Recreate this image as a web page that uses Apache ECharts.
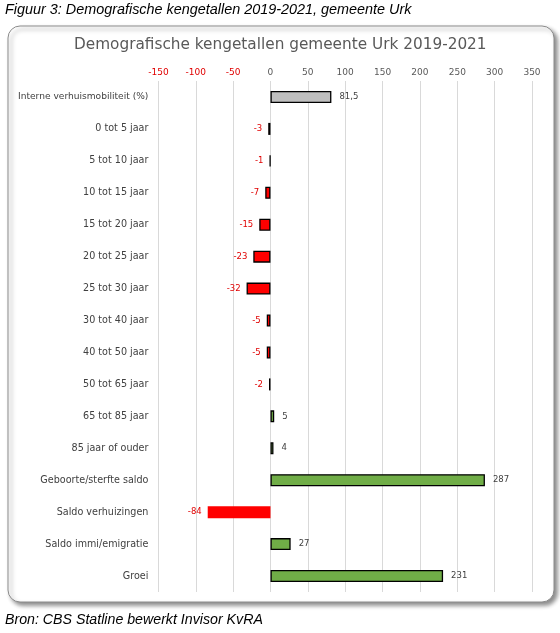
<!DOCTYPE html>
<html>
<head>
<meta charset="utf-8">
<script src="https://cdn.jsdelivr.net/npm/echarts@6/dist/echarts.min.js"></script>
<style>
html,body{margin:0;padding:0;background:#fff;}
#chart{width:560px;height:633px;}
</style>
</head>
<body>
<div id="chart"></div>
<script>
const categories = [
  'Interne verhuismobiliteit (%)', '0 tot 5 jaar', '5 tot 10 jaar', '10 tot 15 jaar',
  '15 tot 20 jaar', '20 tot 25 jaar', '25 tot 30 jaar', '30 tot 40 jaar',
  '40 tot 50 jaar', '50 tot 65 jaar', '65 tot 85 jaar', '85 jaar of ouder',
  'Geboorte/sterfte saldo', 'Saldo verhuizingen', 'Saldo immi/emigratie', 'Groei'
];
const values = [81.5, -3, -1, -7, -15, -23, -32, -5, -5, -2, 5, 4, 287, -84, 27, 231];
const axisMin = -150, axisMax = 350, axisStep = 50;
const chartTitle = 'Demografische kengetallen gemeente Urk 2019-2021';
const caption = 'Figuur 3: Demografische kengetallen 2019-2021, gemeente Urk';
const source = 'Bron: CBS Statline bewerkt Invisor KvRA';

const RED = '#FF0000', GREEN = '#70AD47', GREY = '#BFBFBF';
const FONT = 'DejaVu Sans';

const data = values.map((v, i) => {
  const isPct = i === 0;
  const noBorder = categories[i] === 'Saldo verhuizingen';
  const color = isPct ? GREY : (v < 0 ? RED : GREEN);
  return {
    value: v,
    itemStyle: {
      color: color,
      borderColor: noBorder ? 'transparent' : '#000',
      borderWidth: noBorder ? 0 : 1.3
    },
    label: {
      position: v < 0 ? 'left' : 'right',
      color: v < 0 ? '#E00000' : '#404040',
      distance: v < 0 ? 6 : 8
    }
  };
});

const chart = echarts.init(document.getElementById('chart'), null, {renderer: 'canvas'});
chart.setOption({
  animation: false,
  backgroundColor: '#fff',
  graphic: [
    {
      type: 'rect', z: -10, silent: true,
      shape: {x: 8, y: 26, width: 546, height: 576, r: 12},
      style: {fill: '#fff', stroke: '#8c8c8c', lineWidth: 1,
        shadowBlur: 4, shadowOffsetX: 3, shadowOffsetY: 3, shadowColor: 'rgba(0,0,0,0.45)'}
    },
    {
      type: 'text', left: 5, top: 3, silent: true,
      style: {text: caption, font: 'italic 14.4px "Liberation Sans"', fill: '#000'}
    },
    {
      type: 'text', left: 5, top: 613, silent: true,
      style: {text: source, font: 'italic 14.2px "Liberation Sans"', fill: '#000'}
    },
    {
      type: 'text', left: 74, top: 38, silent: true,
      style: {text: chartTitle, font: '15.3px "DejaVu Sans"', fill: '#595959'}
    }
  ],
  grid: {left: 158.4, right: 28, top: 81, bottom: 41, containLabel: false},
  xAxis: {
    type: 'value', position: 'top',
    min: axisMin, max: axisMax, interval: axisStep,
    axisLine: {show: false}, axisTick: {show: false},
    splitLine: {lineStyle: {color: '#D9D9D9', width: 1}},
    axisLabel: {
      fontFamily: FONT, fontSize: 9, margin: 4,
      color: (v) => (Number(v) < 0 ? '#E00000' : '#595959')
    }
  },
  yAxis: {
    type: 'category', inverse: true, data: categories,
    axisLine: {show: false}, axisTick: {show: false},
    axisLabel: {
      margin: 10,
      formatter: (v, i) => (i === 0 ? '{a|' + v + '}' : '{b|' + v + '}'),
      rich: {
        a: {fontFamily: FONT, fontSize: 9.1, color: '#404040'},
        b: {fontFamily: FONT, fontSize: 9.6, color: '#404040'}
      }
    }
  },
  series: [{
    type: 'bar',
    data: data,
    barWidth: 12,
    label: {
      show: true, fontFamily: FONT, fontSize: 8.5,
      formatter: (p) => String(p.value).replace('.', ',')
    }
  }]
});
</script>
</body>
</html>
